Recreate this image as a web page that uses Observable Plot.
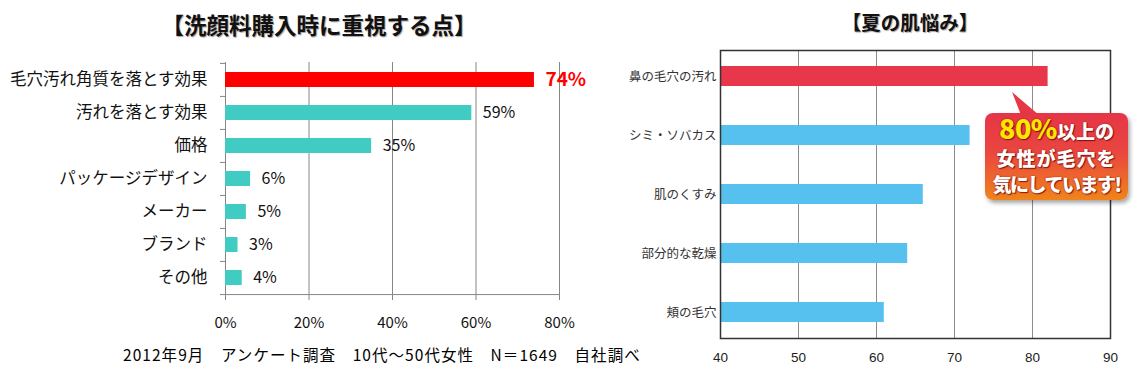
<!DOCTYPE html>
<html>
<head>
<meta charset="utf-8">
<script src="https://cdn.jsdelivr.net/npm/d3@7"></script>
<script src="https://cdn.jsdelivr.net/npm/@observablehq/plot@0.6"></script>
<style>
  html, body { margin: 0; padding: 0; background: #fff; }
  #root { position: relative; width: 1148px; height: 365px; overflow: hidden; background: #fff;
          font-family: "Noto Sans CJK JP", "Noto Sans", sans-serif; }
  .abs { position: absolute; }
  .title { font-weight: 700; color: #111; text-align: center; white-space: nowrap;
           text-shadow: 1px 1px 1px rgba(0,0,0,0.35); }
  .callout-line { position: absolute; left: 985px; width: 143px; text-align: center; white-space: nowrap;
                  color: #fff; font-weight: 900; text-shadow: 1px 1px 1px rgba(110,0,0,0.75), 0 0 2px rgba(120,0,0,0.6); }
</style>
</head>
<body>
<div id="root">
  <div class="abs title" style="left:0;width:638px;top:8px;font-size:22.5px;line-height:32px;">【洗顔料購入時に重視する点】</div>
  <div class="abs title" style="left:710px;width:400px;top:6px;font-size:19.5px;line-height:32px;">【夏の肌悩み】</div>
  <div id="left" class="abs" style="left:0;top:40px;"></div>
  <div id="right" class="abs" style="left:600px;top:40px;"></div>
  <div id="foot" class="abs" style="left:123px;top:344px;font-size:15.5px;line-height:20px;color:#000;white-space:nowrap;letter-spacing:1.05px;">2012年9月　アンケート調査　10代～50代女性　N＝1649　自社調べ</div>
</div>
<script>
// ---- Data: left chart (洗顔料購入時に重視する点) ----
const leftCategories = ["毛穴汚れ角質を落とす効果", "汚れを落とす効果", "価格", "パッケージデザイン", "メーカー", "ブランド", "その他"];
const leftValues = [74, 59, 35, 6, 5, 3, 4];
const leftHighlight = ["毛穴汚れ角質を落とす効果"];
const leftTicks = [0, 20, 40, 60, 80];

// ---- Data: right chart (夏の肌悩み) ----
const rightCategories = ["鼻の毛穴の汚れ", "シミ・ソバカス", "肌のくすみ", "部分的な乾燥", "頬の毛穴"];
const rightValues = [82, 72, 66, 64, 61];
const rightHighlight = ["鼻の毛穴の汚れ"];
const rightTicks = [40, 50, 60, 70, 80, 90];

// ---- Callout texts ----
const calloutBig = "80%";
const calloutLines = ["以上の", "女性が毛穴を", "気にしています!"];

const JP = '"Noto Sans CJK JP", "Noto Sans", sans-serif';

const leftData = leftCategories.map((c, i) => ({category: c, value: leftValues[i], hi: leftHighlight.includes(c)}));
const rightData = rightCategories.map((c, i) => ({category: c, value: rightValues[i], hi: rightHighlight.includes(c)}));

// ---- Left plot ----
const LW = 600, LH = 300, LmT = 22, LmB = 46;
const stepL = (LH - LmT - LmB) / leftCategories.length;
const gridL = "#868686";
const leftPlot = Plot.plot({
  width: LW, height: LH,
  marginLeft: 225, marginRight: 41, marginTop: LmT, marginBottom: LmB,
  x: {domain: [leftTicks[0], leftTicks[leftTicks.length - 1]], label: null},
  y: {domain: leftCategories, paddingInner: 0.56, paddingOuter: 0.28, label: null},
  color: {type: "identity"},
  style: {fontFamily: JP, background: "transparent", overflow: "visible", color: "#000"},
  marks: [
    Plot.ruleX(leftTicks, {stroke: gridL}),
    Plot.ruleY(leftCategories, {x1: leftTicks[0], x2: leftTicks[0], insetLeft: -5, dy: -stepL / 2, stroke: gridL}),
    Plot.ruleY([leftCategories[leftCategories.length - 1]], {x1: leftTicks[0], x2: leftTicks[leftTicks.length - 1], insetLeft: -5, dy: stepL / 2, stroke: gridL}),
    Plot.barX(leftData, {x1: leftTicks[0], x2: "value", y: "category", fill: d => d.hi ? "#ff0000" : "#40cbc3"}),
    Plot.text(leftData, {filter: d => !d.hi, x: "value", y: "category", text: d => d.value + "%", dx: 11, textAnchor: "start", fill: "#111", fontSize: 16}),
    Plot.text(leftData, {filter: d => d.hi, x: "value", y: "category", text: d => d.value + "%", dx: 11, textAnchor: "start", fill: "#ff0000", fontSize: 19, fontWeight: "bold"}),
    Plot.axisX({ticks: leftTicks, tickSize: 6, tickPadding: 17, tickFormat: d => d + "%", fontSize: 15, stroke: gridL, fill: "#111", label: null}),
    Plot.axisY({tickSize: 0, tickPadding: 18, fontSize: 16.5, fill: "#111", label: null})
  ]
});
document.getElementById("left").append(leftPlot);

// ---- Right plot ----
const RW = 548, RH = 325;
const rightPlot = Plot.plot({
  width: RW, height: RH,
  marginLeft: 120, marginRight: 38, marginTop: 10, marginBottom: 27,
  x: {domain: [rightTicks[0], rightTicks[rightTicks.length - 1]], label: null},
  y: {domain: rightCategories, paddingInner: 0.66, paddingOuter: 0.26, label: null},
  color: {type: "identity"},
  style: {fontFamily: JP, background: "transparent", overflow: "visible", color: "#222"},
  marks: [
    Plot.ruleX(rightTicks, {stroke: "#8c8c8c"}),
    Plot.barX(rightData, {x1: rightTicks[0], x2: "value", y: "category", fill: d => d.hi ? "#e8374b" : "#56c1ef"}),
    Plot.frame({stroke: "#333", strokeWidth: 1.5}),
    Plot.axisX({ticks: rightTicks, tickSize: 0, tickPadding: 14, fontSize: 13.5, fontFamily: '"Liberation Sans", sans-serif', fill: "#222", label: null}),
    Plot.axisY({tickSize: 0, tickPadding: 4, fontSize: 12.5, fill: "#333", label: null})
  ]
});
document.getElementById("right").append(rightPlot);

// ---- Callout (annotation, HTML) ----
const root = document.getElementById("root");
const pointer = document.createElement("div");
pointer.className = "abs";
pointer.style.cssText = "left:1009px;top:92px;width:30px;height:23px;background:#e63647;clip-path:polygon(10% 0,40% 100%,100% 100%);";
root.append(pointer);
const box = document.createElement("div");
box.className = "abs";
box.style.cssText = "left:985px;top:113px;width:143px;height:87px;border-radius:8px;background:linear-gradient(#e53547 0%, #ea4640 45%, #f0841a 100%);box-shadow:2px 3px 4px rgba(0,0,0,0.35);";
root.append(box);
const l1 = document.createElement("div");
l1.className = "callout-line";
l1.style.cssText = "top:113px;line-height:30px;";
l1.innerHTML = `<span style="color:#ffe600;font-size:27px;letter-spacing:-0.5px;">${calloutBig}</span><span style="font-size:19px;">${calloutLines[0]}</span>`;
root.append(l1);
const l2 = document.createElement("div");
l2.className = "callout-line";
l2.style.cssText = "top:146px;line-height:24px;font-size:19px;letter-spacing:1px;";
l2.textContent = calloutLines[1];
root.append(l2);
const l3 = document.createElement("div");
l3.className = "callout-line";
l3.style.cssText = "top:171px;line-height:25px;font-size:19px;letter-spacing:-1.5px;";
l3.textContent = calloutLines[2];
root.append(l3);
</script>
</body>
</html>
